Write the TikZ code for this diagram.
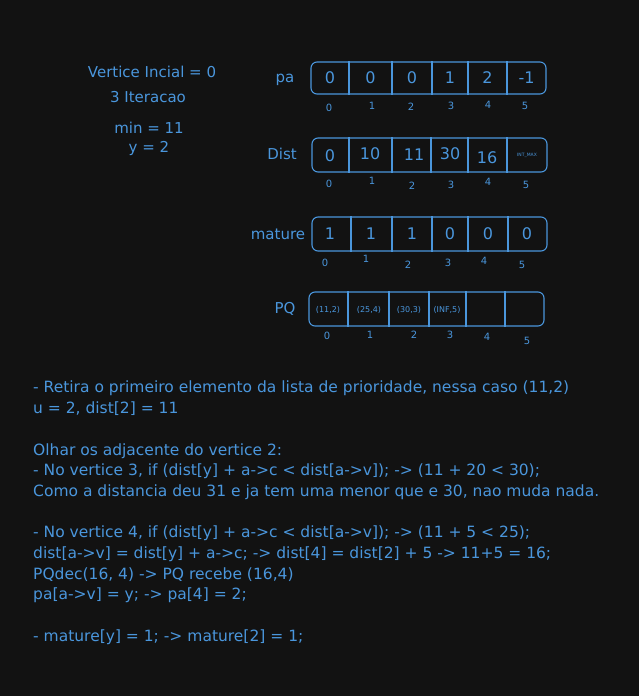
\documentclass[tikz,border=0pt]{standalone}
\usepackage{fontspec}
\setmainfont{DejaVu Sans}
\usetikzlibrary{positioning}
\definecolor{canvas}{HTML}{121212}
\definecolor{ink}{HTML}{4A96DC}

\begin{document}
\begin{tikzpicture}[
    x=1pt,y=-1pt,
    arrbox/.style={draw=ink,line width=1.1pt,rounded corners=6pt,minimum width=235pt,minimum height=34pt,inner sep=0pt},
    sep/.style={draw=ink,line width=1.1pt},
    cell/.style={text=ink,font=\fontsize{16}{20}\selectfont,inner sep=0pt},
    pqcell/.style={text=ink,font=\fontsize{8}{10}\selectfont,inner sep=0pt},
    idx/.style={text=ink,font=\fontsize{10}{12}\selectfont,inner sep=0pt},
    lbl/.style={text=ink,font=\fontsize{15}{19}\selectfont,inner sep=0pt}
]
    \fill[canvas] (0,0) rectangle (639,696);
    \useasboundingbox (0,0) rectangle (639,696);

    \node[lbl] (vinit) at (152,72) {Vertice Incial = 0};
    \node[lbl] (iter) at (148,97) {3 Iteracao};
    \node[lbl] (minval) at (149,128) {min = 11};
    \node[lbl] (yval) at (149,148) {y = 2};

    \node[arrbox,minimum height=32pt] (pa) at (428.5,78) {};
    \node[lbl] (palbl) at (285,80) {pa};
    \foreach \x in {349,392,432,468,507}
        \draw[sep] (\x,0 |- pa.north) -- (\x,0 |- pa.south);
    \foreach \x/\v [count=\i from 0] in {330/0,370.5/0,412/0,450/1,487.5/2,526.5/-1}
        \node[cell] (pa\i) at (\x,78) {\v};
    \foreach \x/\y [count=\i from 0] in {329/108,372/106,411/107,451/106,488/105,525/106}
        \node[idx] (paidx\i) at (\x,\y) {\i};

    \node[arrbox] (dist) at (429.5,155) {};
    \node[lbl] (distlbl) at (282,154) {Dist};
    \foreach \x in {349,392,431,468,507}
        \draw[sep] (\x,0 |- dist.north) -- (\x,0 |- dist.south);
    \foreach \x/\v/\y [count=\i from 0] in {330/0/156,370/10/154,414/11/155,450/30/154,487/16/158}
        \node[cell] (dist\i) at (\x,\y) {\v};
    \node[text=ink,font=\fontsize{4.5}{6}\selectfont,inner sep=0pt] (dist5) at (527,155) {INT\_MAX};
    \foreach \x/\y [count=\i from 0] in {329/184,372/181,412/186,451/185,488/182,526/185}
        \node[idx] (distidx\i) at (\x,\y) {\i};

    \node[arrbox] (mature) at (429.5,234) {};
    \node[lbl] (maturelbl) at (278,234) {mature};
    \foreach \x in {351,392,432,468,508}
        \draw[sep] (\x,0 |- mature.north) -- (\x,0 |- mature.south);
    \foreach \x/\v [count=\i from 0] in {330/1,371/1,412/1,450/0,488/0,527/0}
        \node[cell] (mature\i) at (\x,234) {\v};
    \foreach \x/\y [count=\i from 0] in {325/263,366/259,408/265,448/263,484/261,522/265}
        \node[idx] (matureidx\i) at (\x,\y) {\i};

    \node[arrbox] (pq) at (426.5,309) {};
    \node[lbl] (pqlbl) at (285,309) {PQ};
    \foreach \x in {348,389,429,466,505}
        \draw[sep] (\x,0 |- pq.north) -- (\x,0 |- pq.south);
    \foreach \x/\v [count=\i from 0] in {328/{(11,2)},369/{(25,4)},409/{(30,3)},447/{(INF,5)}}
        \node[pqcell] (pq\i) at (\x,310) {\v};
    \foreach \x/\y [count=\i from 0] in {327/336,370/335,414/335,450/335,487/337,527/341}
        \node[idx] (pqidx\i) at (\x,\y) {\i};

    \node[lbl,anchor=north west,align=left,font=\fontsize{15.5}{20.7}\selectfont] (notes) at (33,381) {%
        - Retira o primeiro elemento da lista de prioridade, nessa caso (11,2)\\
        u = 2, dist[2] = 11\\[20.7pt]
        Olhar os adjacente do vertice 2:\\
        - No vertice 3, if (dist[y] + a->c < dist[a->v]); -> (11 + 20 < 30);\\
        Como a distancia deu 31 e ja tem uma menor que e 30, nao muda nada.\\[20.7pt]
        - No vertice 4, if (dist[y] + a->c < dist[a->v]); -> (11 + 5 < 25);\\
        dist[a->v] = dist[y] + a->c; -> dist[4] = dist[2] + 5 -> 11+5 = 16;\\
        PQdec(16, 4) -> PQ recebe (16,4)\\
        pa[a->v] = y; -> pa[4] = 2;\\[20.7pt]
        - mature[y] = 1; -> mature[2] = 1;};
\end{tikzpicture}
\end{document}
